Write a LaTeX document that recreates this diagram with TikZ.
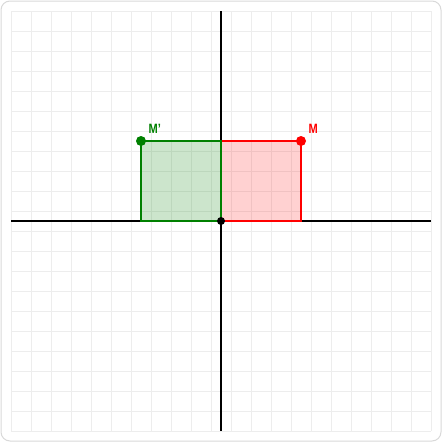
\documentclass[tikz,border=0pt]{standalone}
\usepackage{fontspec}
\setmainfont{Liberation Sans}
\begin{document}
\begin{tikzpicture}[x=1pt,y=-1pt,
  gridline/.style={draw=black!7,line width=0.8pt},
  axis/.style={draw=black,line width=1.8pt},
  dot/.style={circle,inner sep=0pt,minimum size=#1},
  lbl/.style={font=\bfseries\fontsize{13.5}{14}\selectfont,inner sep=0pt}]
\useasboundingbox (0,0) rectangle (442,442);
\draw[draw=black!15,line width=1pt,fill=white,rounded corners=9pt] (1,1) rectangle (441,441);
\foreach \i in {0,...,21} {
  \draw[gridline] (11+20*\i,11) -- (11+20*\i,431);
  \draw[gridline] (11,11+20*\i) -- (431,11+20*\i);
}
\coordinate (O) at (221,221);
\coordinate (M) at (301,141);
\coordinate (Mp) at (141,141);
\coordinate (Mx) at (301,221);
\coordinate (Mpx) at (141,221);
\coordinate (Oy) at (221,141);
\fill[red,opacity=0.18] (O) rectangle (M);
\fill[green!50!black,opacity=0.2] (O) rectangle (Mp);
\draw[axis] (11,221) -- (431,221);
\draw[axis] (221,11) -- (221,431);
\draw[red,line width=1.8pt] (O) -- (Mx) -- (M) -- (Oy);
\draw[green!50!black,line width=1.8pt] (O) -- (Mpx) -- (Mp) -- (Oy) -- (O);
\node[dot=10pt,fill=red] (nM) at (M) {};
\node[dot=10pt,fill=green!50!black] (nMp) at (Mp) {};
\node[dot=8pt,fill=black] (nO) at (O) {};
\node[lbl,text=red,anchor=base west] (lM) at (308.5,133) {\scalebox{0.82}[1]{M}};
\node[lbl,text=green!50!black,anchor=base west] (lMp) at (148.5,133) {\scalebox{0.82}[1]{M’}};
\end{tikzpicture}
\end{document}
